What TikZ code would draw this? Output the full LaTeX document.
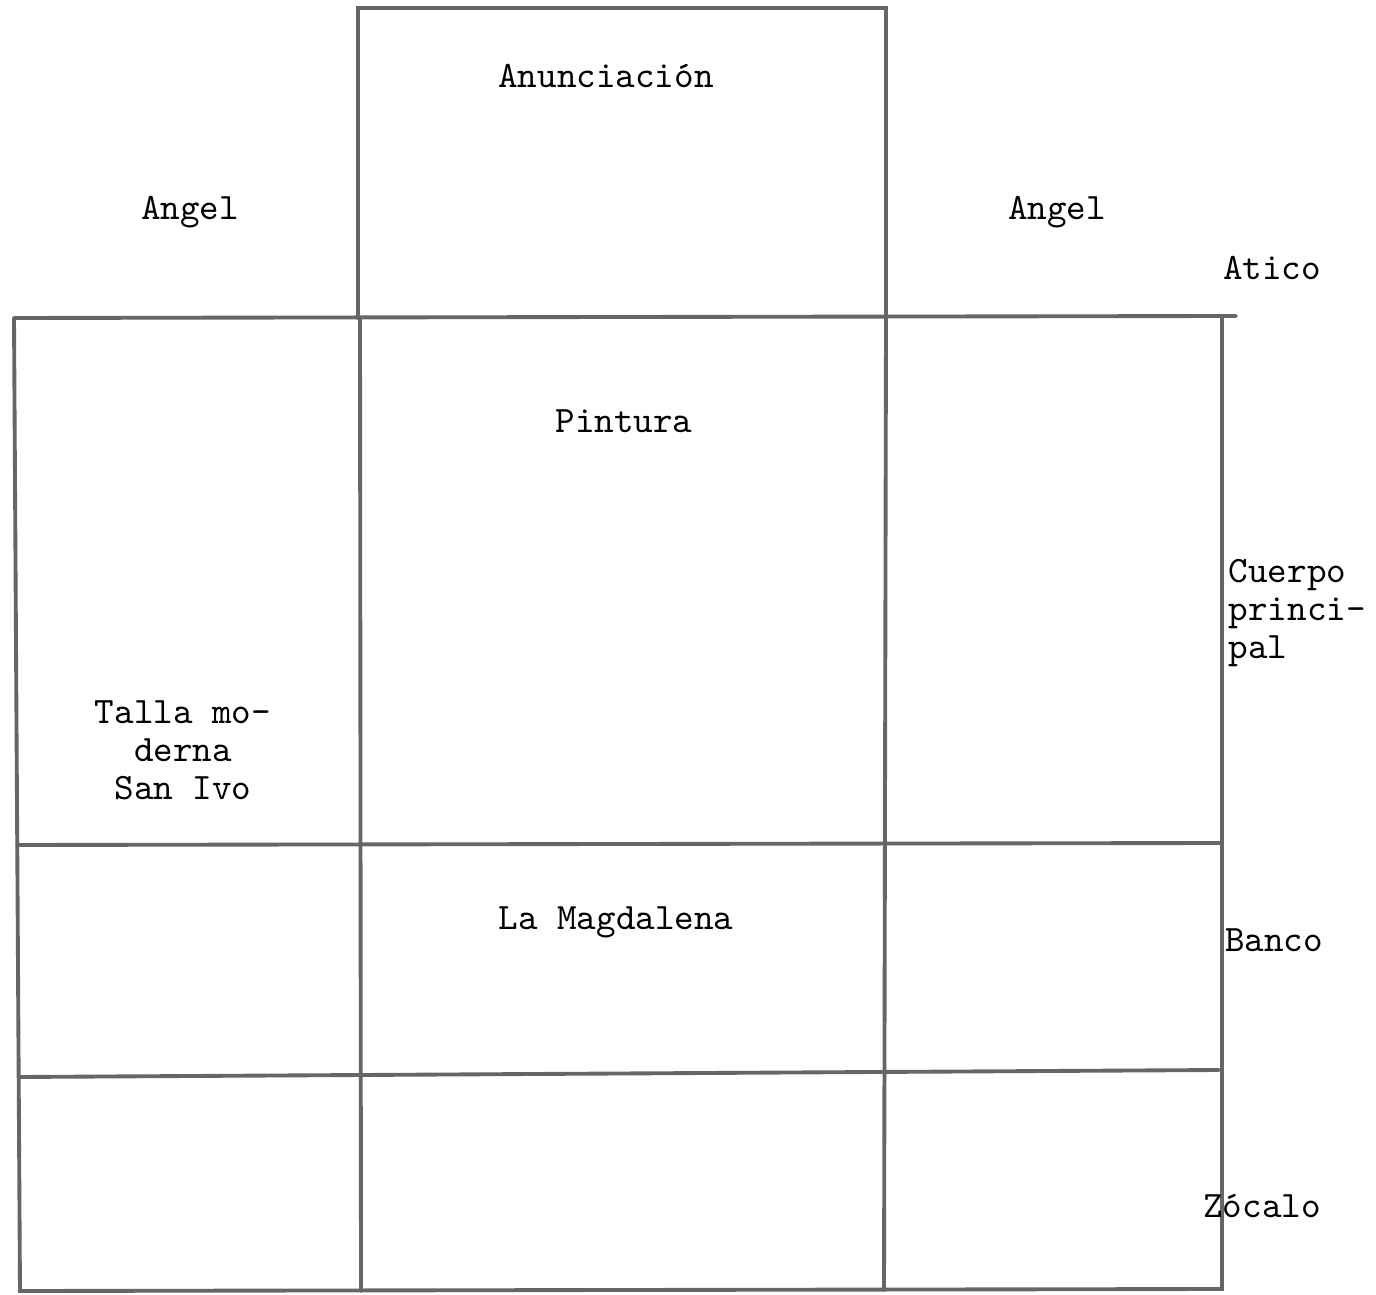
\documentclass[tikz,border=0pt]{standalone}
\usepackage{tikz}

\tikzset{
	frame/.style={black!60, line width=1.1pt, line cap=round},
	tag/.style={inner sep=0pt, font=\fontsize{10.6}{10.8}\selectfont\ttfamily}
}

\begin{document}
\begin{tikzpicture}[x=0.01cm, y=-0.01cm]
	\useasboundingbox (0,0) rectangle (1376,1295);
	\coordinate (ta) at (358,8);
	\coordinate (tb) at (886,8);
	\coordinate (la) at (14,318);
	\coordinate (ra) at (1236,316);
	\coordinate (lb) at (20,1291);
	\coordinate (rb) at (1222,1289);
	\draw[frame] (358,318) -- (ta) -- (tb) -- (886,318);
	\draw[frame] (la) -- (ra);
	\draw[frame] (la) -- (lb) -- (rb) -- (1222,318);
	\draw[frame] (360,318) -- (361,1291);
	\draw[frame] (886,318) -- (884,1290);
	\draw[frame] (17,845) -- (1222,843);
	\draw[frame] (19,1077) -- (1219,1070);
	\node[tag] (anun) at (606,76) {Anunciación};
	\node[tag] (angl) at (190,212) {Angel};
	\node[tag] (angr) at (1057,212) {Angel};
	\node[tag] (atic) at (1272,268) {Atico};
	\node[tag] (pint) at (624,421) {Pintura};
	\node[tag, anchor=west, align=left] (cuer) at (1228,613) {Cuerpo\\princi-\\pal};
	\node[tag, align=center] (tall) at (183,750) {Talla mo-\\derna\\San Ivo};
	\node[tag] (magd) at (616,922) {La Magdalena};
	\node[tag] (banc) at (1274,940) {Banco};
	\node[tag] (zoca) at (1262,1206) {Zócalo};
\end{tikzpicture}
\end{document}
